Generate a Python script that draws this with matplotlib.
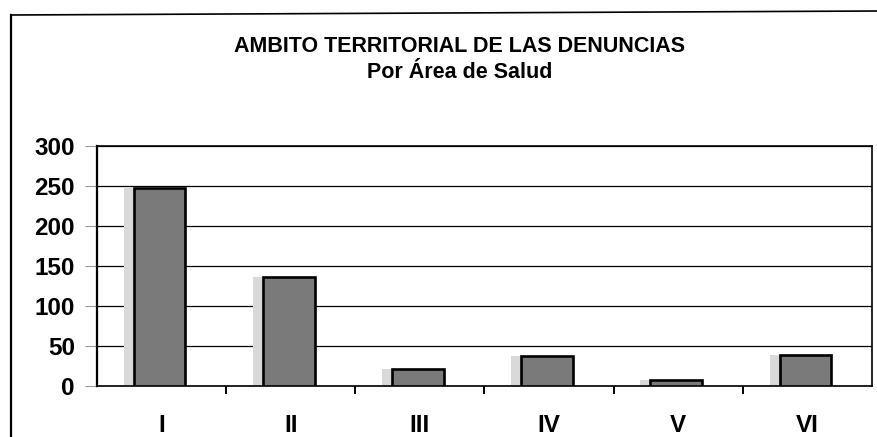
import numpy as np
import matplotlib
matplotlib.use("Agg")
import matplotlib.pyplot as plt
from matplotlib.lines import Line2D

# Denuncias por area de salud
areas = ["I", "II", "III", "IV", "V", "VI"]
denuncias = [248, 136, 21, 37, 8, 39]
y_ticks = [0, 50, 100, 150, 200, 250, 300]

plt.rcParams["font.family"] = ["Liberation Sans", "DejaVu Sans"]
plt.rcParams["font.weight"] = "bold"

W, H = 878, 437
fig = plt.figure(figsize=(W / 100, H / 100), dpi=100)
ax = fig.add_axes([97 / W, 1 - 386 / H, (872 - 97) / W, (386 - 146) / H])

x = np.arange(len(areas))
ancho = 0.40
sombra = 0.078

# sombra clara a la izquierda de cada barra
ax.bar(x - sombra - 0.015, denuncias, width=ancho, color="#d9d9d9", edgecolor="none", zorder=2)
ax.bar(x - 0.015, denuncias, width=ancho, color="#7a7a7a", edgecolor="black", linewidth=1.9, zorder=3)

ax.set_xlim(-0.5, len(areas) - 0.5)
ax.set_ylim(0, 300)

# rejilla horizontal
ax.set_yticks(y_ticks)
ax.set_yticklabels([str(v) for v in y_ticks], fontsize=17.5, fontweight="bold")
ax.yaxis.grid(True, color="black", linewidth=0.9)
ax.set_axisbelow(True)
ax.tick_params(axis="y", length=9, width=0.8, color="#9a9a9a", pad=7)

# marcas entre categorias, etiquetas en el centro
ax.set_xticks(np.arange(0.5, len(areas) - 0.5, 1))
ax.set_xticklabels([])
ax.tick_params(axis="x", which="major", length=6, width=1.4, color="black")
ax.set_xticks(x, minor=True)
ax.set_xticklabels(areas, minor=True, fontsize=17.5, fontweight="bold")
ax.tick_params(axis="x", which="minor", length=0, pad=20)

for s in ax.spines.values():
    s.set_color("black")
    s.set_linewidth(1.2)
ax.spines["left"].set_linewidth(1.6)

fig.text(460 / W, 1 - 46 / H, "AMBITO TERRITORIAL DE LAS DENUNCIAS",
         ha="center", va="center", fontsize=15.5, fontweight="bold")
fig.text(460 / W, 1 - 73 / H, "Por Área de Salud",
         ha="center", va="center", fontsize=15.5, fontweight="bold")

# marco exterior del grafico
fig.add_artist(Line2D([11 / W, 1.0], [1 - 15 / H, 1 - 11 / H], color="black", linewidth=1.2))
fig.add_artist(Line2D([11 / W, 11 / W], [1 - 15 / H, 0], color="black", linewidth=1.6))

fig.savefig("out.png", dpi=100)
